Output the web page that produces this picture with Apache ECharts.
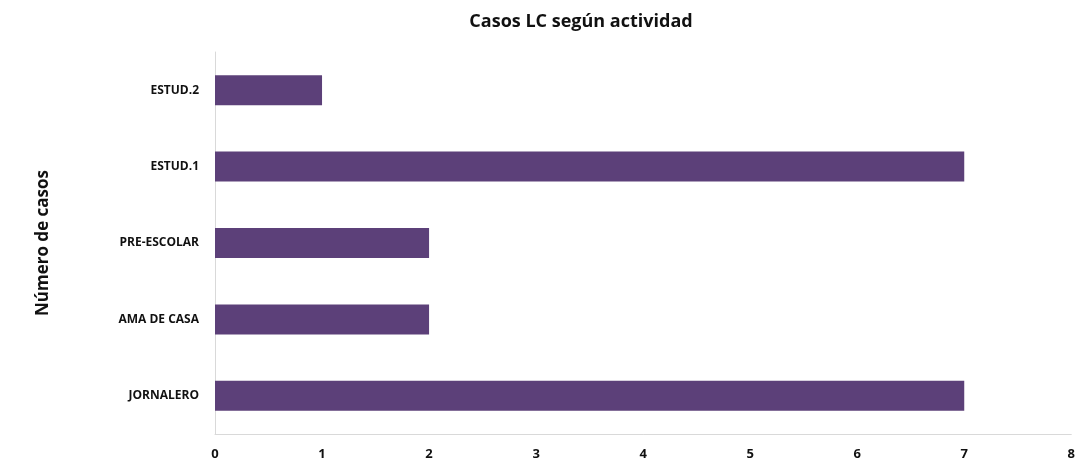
<!DOCTYPE html>
<html>
<head>
<meta charset="utf-8">
<script src="https://cdn.jsdelivr.net/npm/echarts@6/dist/echarts.min.js"></script>
<style>
  html, body { margin: 0; padding: 0; background: #fff; }
  #chart { width: 1078px; height: 467px; }
</style>
</head>
<body>
<div id="chart"></div>
<script>
// categorias de abajo hacia arriba
const categories = ["JORNALERO", "AMA DE CASA", "PRE-ESCOLAR", "ESTUD.1", "ESTUD.2"];
const casos = [7, 2, 2, 7, 1];

const chart = echarts.init(document.getElementById("chart"));
const font = "'Open Sans', 'Liberation Sans', sans-serif";

chart.setOption({
  animation: false,
  title: {
    text: "Casos LC según actividad",
    left: 576,
    top: 8,
    textAlign: "center",
    textStyle: { fontFamily: font, fontWeight: "bold", fontSize: 18, color: "#111" }
  },
  grid: { left: 215, right: 6, top: 52, bottom: 33 },
  xAxis: {
    type: "value",
    min: 0,
    max: 8,
    interval: 1,
    axisLine: { show: true, lineStyle: { color: "#d9d9d9" } },
    axisTick: { show: false },
    splitLine: { show: false },
    axisLabel: { fontFamily: font, fontWeight: "bold", fontSize: 13, color: "#111", margin: 14 }
  },
  yAxis: {
    type: "category",
    data: categories,
    name: "Número de casos",
    nameLocation: "middle",
    nameGap: 163,
    nameTextStyle: { fontFamily: font, fontWeight: "bold", fontSize: 17, color: "#111" },
    axisLine: { show: true, lineStyle: { color: "#d9d9d9" } },
    axisTick: { show: false },
    axisLabel: { fontFamily: font, fontWeight: "bold", fontSize: 12, color: "#111", margin: 16 }
  },
  series: [
    {
      type: "bar",
      data: casos,
      barWidth: 30,
      itemStyle: { color: "#5c4079" }
    }
  ]
});
</script>
</body>
</html>
